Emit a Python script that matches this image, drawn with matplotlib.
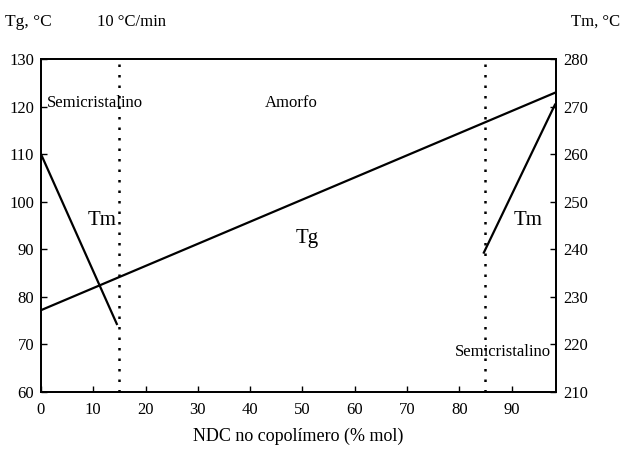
import matplotlib
matplotlib.use("Agg")
import matplotlib.pyplot as plt

plt.rcParams['font.family'] = ['Liberation Serif', 'DejaVu Serif']

# Data
tg_x = [0, 98.5]
tg_y = [77.2, 123.0]
tm_left_x = [0, 14.5]
tm_left_y = [260.0, 224.3]
tm_right_x = [84.7, 98.3]
tm_right_y = [239.3, 270.4]
boundaries = [15, 85]
x_ticks = [0, 10, 20, 30, 40, 50, 60, 70, 80, 90]
tg_ticks = [60, 70, 80, 90, 100, 110, 120, 130]
tm_ticks = [210, 220, 230, 240, 250, 260, 270, 280]

fig = plt.figure(figsize=(6.22, 4.58), dpi=100)
ax = fig.add_axes([41/622, 1-392/458, (556-41)/622, (392-59)/458])
ax2 = ax.twinx()

ax.set_xlim(0, 98.5)
ax.set_ylim(60, 130)
ax2.set_ylim(210, 280)

ax.plot(tg_x, tg_y, color='black', lw=1.6)
ax2.plot(tm_left_x, tm_left_y, color='black', lw=1.6)
ax2.plot(tm_right_x, tm_right_y, color='black', lw=1.6)
for b in boundaries:
    ax.axvline(b, color='black', lw=1.8, linestyle=(0, (1, 3.2)))

ax.set_xticks(x_ticks)
ax.set_yticks(tg_ticks)
ax2.set_yticks(tm_ticks)
for a in (ax, ax2):
    a.tick_params(direction='in', length=4, width=1, labelsize=12, pad=5)
    for s in a.spines.values():
        s.set_linewidth(1.3)
ax.tick_params(axis='x', pad=7)

ax.set_xlabel('NDC no copolímero (% mol)', fontsize=13, labelpad=7)

fig.text(5/622, 1-22/458, 'Tg, °C', fontsize=12.5, va='center', ha='left')
fig.text(97/622, 1-22/458, '10 °C/min', fontsize=12, va='center', ha='left')
fig.text(620/622, 1-22/458, 'Tm, °C', fontsize=12, va='center', ha='right')

ax.text(1.2, 120.8, 'Semicristalino', fontsize=12, va='center', ha='left')
ax.text(47.8, 120.8, 'Amorfo', fontsize=12, va='center', ha='center')
ax.text(11.7, 96.0, 'Tm', fontsize=15, va='center', ha='center')
ax.text(50.9, 92.3, 'Tg', fontsize=15, va='center', ha='center')
ax.text(93.2, 96.0, 'Tm', fontsize=15, va='center', ha='center')
ax.text(97.6, 68.4, 'Semicristalino', fontsize=12, va='center', ha='right')

fig.savefig('out.png', dpi=100)
